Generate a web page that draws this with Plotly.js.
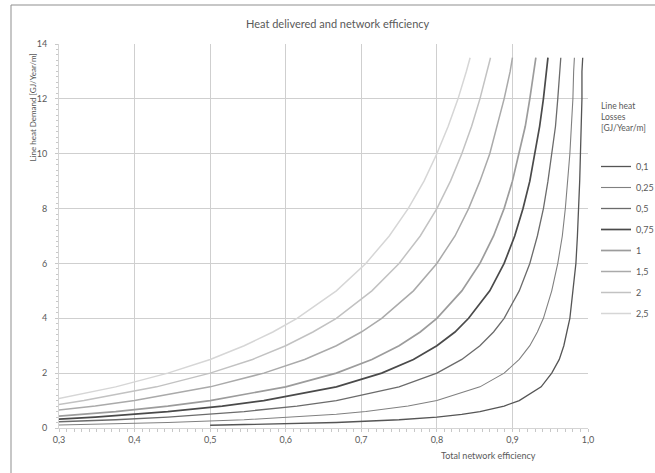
<!DOCTYPE html>
<html>
<head>
<meta charset="utf-8">
<script src="https://cdn.plot.ly/plotly-3.0.1.min.js"></script>
<style>html,body{margin:0;padding:0;background:#fff;}#chart{width:655px;height:473px;}</style>
</head>
<body>
<div id="chart"></div>
<script>
// Line heat demand [GJ/Year/m] (y values shared by all curves)
const demand = [0.1, 0.2, 0.3, 0.4, 0.5, 0.6, 0.8, 1, 1.5, 2, 2.5, 3, 3.5, 4, 5, 6, 7, 8, 9, 10, 11, 12, 13, 13.5];

// Legend labels: line heat losses [GJ/Year/m]
const lossLabels = ["0,1", "0,25", "0,5", "0,75", "1", "1,5", "2", "2,5"];

// Total network efficiency for each loss level (x values)
const eff_0_1  = [0.500, 0.667, 0.750, 0.800, 0.833, 0.857, 0.889, 0.909, 0.938, 0.952, 0.962, 0.968, 0.972, 0.976, 0.980, 0.984, 0.986, 0.988, 0.989, 0.990, 0.991, 0.992, 0.992, 0.993];
const eff_0_25 = [0.286, 0.444, 0.545, 0.615, 0.667, 0.706, 0.762, 0.800, 0.857, 0.889, 0.909, 0.923, 0.933, 0.941, 0.952, 0.960, 0.966, 0.970, 0.973, 0.976, 0.978, 0.980, 0.981, 0.982];
const eff_0_5  = [0.167, 0.286, 0.375, 0.444, 0.500, 0.545, 0.615, 0.667, 0.750, 0.800, 0.833, 0.857, 0.875, 0.889, 0.909, 0.923, 0.933, 0.941, 0.947, 0.952, 0.957, 0.960, 0.963, 0.964];
const eff_0_75 = [0.118, 0.211, 0.286, 0.348, 0.400, 0.444, 0.516, 0.571, 0.667, 0.727, 0.769, 0.800, 0.824, 0.842, 0.870, 0.889, 0.903, 0.914, 0.923, 0.930, 0.936, 0.941, 0.945, 0.947];
const eff_1    = [0.091, 0.167, 0.231, 0.286, 0.333, 0.375, 0.444, 0.500, 0.600, 0.667, 0.714, 0.750, 0.778, 0.800, 0.833, 0.857, 0.875, 0.889, 0.900, 0.909, 0.917, 0.923, 0.929, 0.931];
const eff_1_5  = [0.063, 0.118, 0.167, 0.211, 0.250, 0.286, 0.348, 0.400, 0.500, 0.571, 0.625, 0.667, 0.700, 0.727, 0.769, 0.800, 0.824, 0.842, 0.857, 0.870, 0.880, 0.889, 0.897, 0.900];
const eff_2    = [0.048, 0.091, 0.130, 0.167, 0.200, 0.231, 0.286, 0.333, 0.429, 0.500, 0.556, 0.600, 0.636, 0.667, 0.714, 0.750, 0.778, 0.800, 0.818, 0.833, 0.846, 0.857, 0.867, 0.871];
const eff_2_5  = [0.038, 0.074, 0.107, 0.138, 0.167, 0.194, 0.242, 0.286, 0.375, 0.444, 0.500, 0.545, 0.583, 0.615, 0.667, 0.706, 0.737, 0.762, 0.783, 0.800, 0.815, 0.828, 0.839, 0.844];

const effSeries = [eff_0_1, eff_0_25, eff_0_5, eff_0_75, eff_1, eff_1_5, eff_2, eff_2_5];

const lineColors = ["#555555", "#808080", "#6b6b6b", "#4a4a4a", "#9c9c9c", "#aaaaaa", "#c2c2c2", "#d6d6d6"];
const lineWidths = [1.3, 1.1, 1.3, 1.7, 1.7, 1.5, 1.5, 1.5];

const FONT = "Lato, 'Liberation Sans', sans-serif";
const TXT = "#595959";

const traces = effSeries.map((xs, i) => ({
  type: "scatter",
  mode: "lines",
  x: xs,
  y: demand,
  name: lossLabels[i],
  legendgroup: "g" + i,
  line: {color: lineColors[i], width: lineWidths[i]},
  hoverinfo: "skip"
}));

// pixel helpers for annotation placement (plot area: x 59..588, y 44..428)
const L = 59, R = 588, T = 44, B = 428;
const px = x => (x - L) / (R - L);
const py = y => (B - y) / (B - T);

const layout = {
  width: 655, height: 473,
  margin: {l: L, r: 655 - R, t: T, b: 473 - B, pad: 0, autoexpand: false},
  paper_bgcolor: "#ffffff",
  plot_bgcolor: "#ffffff",
  separators: ",.",
  font: {family: FONT, size: 9, color: TXT},
  showlegend: true,
  legend: {
    x: px(596), y: py(152), xanchor: "left", yanchor: "top",
    font: {family: FONT, size: 9, color: TXT},
    bgcolor: "rgba(0,0,0,0)", borderwidth: 0,
    itemwidth: 30, tracegroupgap: 2
  },
  xaxis: {
    range: [0.3, 1.0], dtick: 0.1, tick0: 0.3, tickformat: ".1f",
    showgrid: true, gridcolor: "#cfcfcf", gridwidth: 1,
    zeroline: false, showline: true, linecolor: "#d4d4d4", linewidth: 1,
    ticks: "outside", ticklen: 3, tickcolor: "#c8c8c8",
    minor: {dtick: 0.01, ticks: "outside", ticklen: 3, tickcolor: "#c8c8c8", showgrid: false},
    tickfont: {family: FONT, size: 9, color: TXT},
    fixedrange: true
  },
  yaxis: {
    range: [0, 14], dtick: 2, tick0: 0,
    showgrid: true, gridcolor: "#cfcfcf", gridwidth: 1,
    zeroline: false, showline: true, linecolor: "#d4d4d4", linewidth: 1,
    ticks: "outside", ticklen: 3, tickcolor: "#c8c8c8",
    minor: {dtick: 0.2, ticks: "outside", ticklen: 2, tickcolor: "#c8c8c8", showgrid: false},
    tickfont: {family: FONT, size: 9, color: TXT},
    ticklabelstandoff: 6,
    fixedrange: true
  },
  shapes: [
    {type: "line", xref: "paper", yref: "paper", x0: px(11), x1: px(11), y0: py(5), y1: py(480), line: {color: "#8f8f8f", width: 1}},
    {type: "line", xref: "paper", yref: "paper", x0: px(11), x1: px(660), y0: py(5), y1: py(5), line: {color: "#8f8f8f", width: 1}}
  ],
  annotations: [
    {text: "Heat delivered and network efficiency", xref: "paper", yref: "paper", x: px(338), y: py(23),
     xanchor: "center", yanchor: "middle", showarrow: false, font: {family: FONT, size: 11, color: TXT}},
    {text: "Line heat Demand [GJ/Year/m]", xref: "paper", yref: "paper", x: px(32), y: py(107.5),
     xanchor: "center", yanchor: "middle", textangle: -90, showarrow: false, font: {family: FONT, size: 8, color: TXT}},
    {text: "Total network efficiency", xref: "paper", yref: "paper", x: px(488), y: py(455),
     xanchor: "center", yanchor: "middle", showarrow: false, font: {family: FONT, size: 9, color: TXT}},
    {text: "Line heat<br>Losses<br>[GJ/Year/m]", xref: "paper", yref: "paper", x: px(599), y: py(117),
     xanchor: "left", yanchor: "middle", align: "left", showarrow: false, font: {family: FONT, size: 8.5, color: TXT}}
  ]
};

Plotly.newPlot("chart", traces, layout, {displayModeBar: false, staticPlot: true});
</script>
</body>
</html>
